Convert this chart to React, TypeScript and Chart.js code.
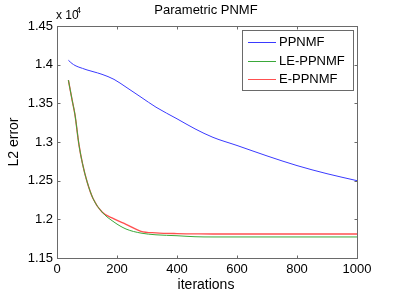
import React, { useEffect, useRef } from "react";
import { Chart, registerables } from "chart.js";

Chart.register(...registerables);

const iterations = [38, 50, 60, 73, 85, 100, 120, 150, 190, 230, 280, 330, 400, 460, 520, 600, 700, 800, 900, 1000];
const ppnmf = [14057, 14015, 13990, 13968, 13952, 13932, 13910, 13875, 13810, 13710, 13580, 13450, 13300, 13170, 13060, 12955, 12820, 12695, 12590, 12500];
const lePpnmf = [13800, 13550, 13350, 12970, 12720, 12490, 12270, 12095, 11965, 11875, 11822, 11800, 11788, 11775, 11772, 11772, 11772, 11772, 11772, 11772];
const ePpnmf = [13800, 13550, 13350, 12970, 12720, 12490, 12270, 12095, 12005, 11935, 11845, 11825, 11815, 11812, 11810, 11810, 11810, 11810, 11810, 11810];
const seriesLabels = ["PPNMF", "LE-PPNMF", "E-PPNMF"];
const seriesColors = ["#3a3aff", "#3aa83a", "#ff5050"];
const seriesWidths = [1, 1, 1.4];
const titleText = "Parametric PNMF";
const xTitle = "iterations";
const yTitle = "L2 error";
const xTicks = [0, 200, 400, 600, 800, 1000];
const yTicks = [11500, 12000, 12500, 13000, 13500, 14000, 14500];

const FONT = "'Liberation Sans', Arial, Helvetica, sans-serif";

const matlabPlugin = {
  id: "matlabDecor",
  afterDraw(chart: any) {
    const ctx = chart.ctx;
    const { left, right, top, bottom } = chart.chartArea;
    const xs = chart.scales.x;
    const ys = chart.scales.y;
    ctx.save();
    // box
    ctx.strokeStyle = "#6a6a6a";
    ctx.lineWidth = 1;
    const L = Math.round(left) + 0.5, R = Math.round(right) + 0.5, T = Math.round(top) + 0.5, B = Math.round(bottom) + 0.5;
    ctx.strokeRect(L, T, R - L, B - T);
    // inward ticks
    ctx.beginPath();
    xTicks.forEach((v) => {
      const px = Math.round(xs.getPixelForValue(v)) + 0.5;
      ctx.moveTo(px, B); ctx.lineTo(px, B - 3);
      ctx.moveTo(px, T); ctx.lineTo(px, T + 3);
    });
    yTicks.forEach((v) => {
      const py = Math.round(ys.getPixelForValue(v)) + 0.5;
      ctx.moveTo(L, py); ctx.lineTo(L + 3, py);
      ctx.moveTo(R, py); ctx.lineTo(R - 3, py);
    });
    ctx.stroke();
    ctx.fillStyle = "#000";
    ctx.textBaseline = "middle";
    // title
    ctx.textAlign = "center";
    ctx.font = `13px ${FONT}`;
    ctx.fillText(titleText, (left + right) / 2 - 1, 10);
    // axis titles
    ctx.font = `14px ${FONT}`;
    ctx.fillText(xTitle, (left + right) / 2 - 1, 285);
    ctx.save();
    ctx.translate(14, (top + bottom) / 2);
    ctx.rotate(-Math.PI / 2);
    ctx.fillText(yTitle, 0, 0);
    ctx.restore();
    // exponent
    ctx.textAlign = "left";
    ctx.font = `12px ${FONT}`;
    ctx.fillText("x 10", 56, 16);
    ctx.font = `9px ${FONT}`;
    ctx.fillText("4", 76, 11);
    // legend
    const lx = 242.5, ly = 30.5, lw = 111, lh = 60;
    ctx.fillStyle = "#fff";
    ctx.fillRect(lx, ly, lw, lh);
    ctx.strokeStyle = "#6a6a6a";
    ctx.strokeRect(lx, ly, lw, lh);
    ctx.font = `13px ${FONT}`;
    chart.data.datasets.forEach((ds: any, i: number) => {
      const y = 42 + i * 18.5;
      ctx.strokeStyle = ds.borderColor;
      ctx.lineWidth = 1;
      ctx.beginPath();
      ctx.moveTo(248, Math.round(y) + 0.5);
      ctx.lineTo(276, Math.round(y) + 0.5);
      ctx.stroke();
      ctx.fillStyle = "#000";
      ctx.fillText(ds.label, 279, y + 0.5);
    });
    ctx.restore();
  },
};

export default function App() {
  const ref = useRef<HTMLCanvasElement>(null);
  useEffect(() => {
    if (!ref.current) return;
    const mk = (vals: number[]) => iterations.map((x, i) => ({ x, y: vals[i] }));
    const all = [ppnmf, lePpnmf, ePpnmf];
    const chart = new Chart(ref.current, {
      type: "line",
      data: {
        datasets: all.map((vals, i) => ({
          label: seriesLabels[i],
          data: mk(vals),
          borderColor: seriesColors[i],
          borderWidth: seriesWidths[i],
          pointRadius: 0,
          cubicInterpolationMode: "monotone" as const,
          fill: false,
        })),
      },
      options: {
        animation: false,
        responsive: false,
        devicePixelRatio: 1,
        layout: { padding: { top: 26, right: 38, left: 0, bottom: 0 } },
        plugins: { legend: { display: false }, title: { display: false }, tooltip: { enabled: false } },
        scales: {
          x: {
            type: "linear",
            min: 0,
            max: 1000,
            afterBuildTicks: (s: any) => { s.ticks = xTicks.map((v) => ({ value: v })); },
            afterFit: (s: any) => { s.height = 38; },
            grid: { display: false, drawTicks: false },
            border: { display: false },
            ticks: {
              color: "#000",
              font: { family: FONT, size: 13 },
              padding: 4,
              maxRotation: 0,
              callback: (v: any) => String(v),
            },
          },
          y: {
            type: "linear",
            min: 11500,
            max: 14500,
            afterBuildTicks: (s: any) => { s.ticks = yTicks.map((v) => ({ value: v })); },
            afterFit: (s: any) => { s.width = 57; },
            grid: { display: false, drawTicks: false },
            border: { display: false },
            ticks: {
              color: "#000",
              font: { family: FONT, size: 13 },
              padding: 4,
              callback: (v: any) => String(Math.round(Number(v) / 10) / 1000),
            },
          },
        },
      },
      plugins: [matlabPlugin],
    });
    return () => chart.destroy();
  }, []);
  return (
    <div style={{ position: "absolute", left: 0, top: 0, width: 395, height: 296, background: "#fff" }}>
      <canvas ref={ref} width={395} height={296} />
    </div>
  );
}
